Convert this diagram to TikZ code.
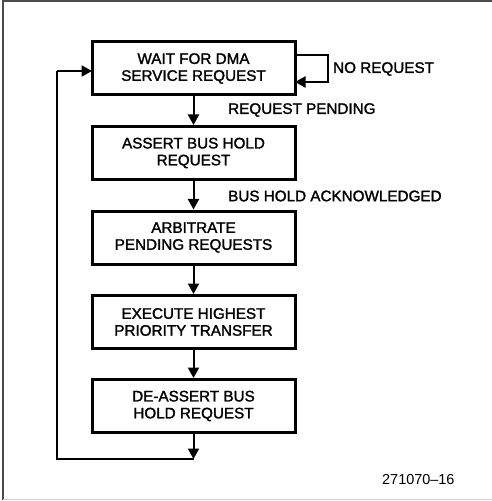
\documentclass[tikz,border=0pt]{standalone}
\usepackage{fontspec}
\setmainfont{Liberation Sans}
\newfontfamily\diagfont{Liberation Sans}[FakeBold=1.6]
\usetikzlibrary{arrows.meta}
\begin{document}
\begin{tikzpicture}[x=1bp,y=-1bp,
  font=\diagfont\fontsize{15.3}{17}\selectfont,
  stepbox/.style={draw, line width=3bp, rectangle, minimum width=203bp, minimum height=53bp, inner sep=0pt, align=center},
  conn/.style={line width=2bp},
  arr/.style={conn, -{Triangle[length=10.5bp,width=11bp]}},
  lbl/.style={anchor=west, inner sep=0pt}]
\useasboundingbox (0,0) rectangle (492,501);
\draw[gray!60!black, line width=1.2bp] (3,500) -- (3,1) -- (492,1);
\draw[gray!40, line width=1.2bp] (3,499.5) -- (492,499.5);

\node[stepbox] (b1) at (193.5,68.5) {WAIT FOR DMA\\SERVICE REQUEST};
\node[stepbox] (b2) at (193.5,153) {ASSERT BUS HOLD\\REQUEST};
\node[stepbox] (b3) at (193.5,237.5) {ARBITRATE\\PENDING REQUESTS};
\node[stepbox] (b4) at (193.5,322) {EXECUTE HIGHEST\\PRIORITY TRANSFER};
\node[stepbox] (b5) at (193.5,406) {DE-ASSERT BUS\\HOLD REQUEST};

\draw[arr] (b1) -- (b2);
\draw[arr] (b2) -- (b3);
\draw[arr] (b3) -- (b4);
\draw[arr] (b4) -- (b5);

% self loop
\coordinate (l1) at (295,55);
\coordinate (l2) at (328,55);
\coordinate (l3) at (328,82);
\coordinate (l4) at (295,82);
\draw[arr] (l1) -- (l2) -- (l3) -- (l4);

% feedback
\coordinate (f1) at (193.5,459);
\coordinate (f2) at (57,459);
\coordinate (f3) at (57,71);
\coordinate (f4) at (92,71);
\draw[arr] (b5.south) -- (f1);
\draw[conn] (f1) -- (f2) -- (f3);
\draw[arr] (f3) -- (f4);

\node[lbl] (t1) at (333,69) {NO REQUEST};
\node[lbl] (t2) at (228,110) {REQUEST PENDING};
\node[lbl] (t3) at (228,196) {BUS HOLD ACKNOWLEDGED};
\node[lbl, font=\normalfont\fontsize{14.5}{17}\selectfont] (t4) at (382,480) {271070–16};
\end{tikzpicture}
\end{document}
